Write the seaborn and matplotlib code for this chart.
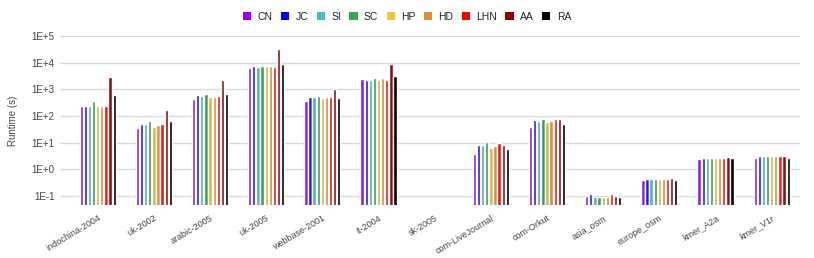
import matplotlib
matplotlib.use("Agg")
import matplotlib.pyplot as plt
from matplotlib.ticker import FixedLocator, FuncFormatter, NullLocator
from matplotlib.patches import Patch
import seaborn as sns
import pandas as pd
import numpy as np

graphs = ["indochina-2004", "uk-2002", "arabic-2005", "uk-2005", "webbase-2001", "it-2004",
          "sk-2005", "com-LiveJournal", "com-Orkut", "asia_osm", "europe_osm", "kmer_A2a", "kmer_V1r"]
methods = ["CN", "JC", "SI", "SC", "HP", "HD", "LHN", "AA", "RA"]
colors = ["#9900ff", "#0000ff", "#46bdc6", "#34a853", "#f1c232", "#e69138", "#ff0000", "#990000", "#000000"]

# runtime in seconds, one list per method (sk-2005 has no result)
nan = np.nan
CN = [234, 35, 425, 6600, 380, 2450, nan, 3.7, 37, 0.098, 0.40, 2.45, 2.75]
JC = [247, 48, 617, 7600, 537, 2340, nan, 8.1, 68, 0.115, 0.42, 2.75, 3.2]
SI = [247, 48, 565, 7200, 500, 2340, nan, 8.1, 63, 0.09, 0.42, 2.75, 3.05]
SC = [356, 66, 692, 7600, 565, 2750, nan, 10.5, 79, 0.09, 0.42, 2.6, 3.2]
HP = [229, 39, 501, 7600, 475, 2340, nan, 6.3, 59, 0.09, 0.42, 2.75, 3.05]
HD = [247, 45, 537, 7600, 500, 2630, nan, 7.2, 63, 0.09, 0.42, 2.6, 3.2]
LHN = [247, 48, 565, 7200, 500, 2340, nan, 9.5, 76, 0.115, 0.42, 2.75, 3.05]
AA = [3000, 162, 2240, 31600, 1020, 9300, nan, 8.5, 76, 0.10, 0.46, 3.0, 3.2]
RA = [630, 66, 692, 9300, 475, 3090, nan, 5.9, 49, 0.09, 0.40, 2.6, 2.75]

series = dict(zip(methods, [CN, JC, SI, SC, HP, HD, LHN, AA, RA]))
rows = []
for m, vals in series.items():
    for g, v in zip(graphs, vals):
        rows.append({"graph": g, "method": m, "runtime": v})
df = pd.DataFrame(rows)

sns.set_style("white")
plt.rcParams["font.family"] = ["Liberation Sans", "DejaVu Sans"]

fig = plt.figure(figsize=(8.14, 2.58), dpi=100)
ax = fig.add_axes([0.074, 0.205, 0.909, 0.655])

sns.barplot(data=df, x="graph", y="runtime", hue="method", order=graphs, hue_order=methods,
            palette=colors, width=0.66, gap=0.2, ax=ax, legend=False, zorder=3)

ax.set_yscale("log")
ax.set_ylim(0.045, 1e5)
ax.set_xlim(-0.667, len(graphs) - 0.493)
ax.yaxis.set_major_locator(FixedLocator([1e-1, 1, 1e1, 1e2, 1e3, 1e4, 1e5]))
ax.yaxis.set_minor_locator(NullLocator())
ax.yaxis.set_major_formatter(FuncFormatter(lambda v, p: "1E%+d" % round(np.log10(v))))
ax.grid(axis="y", color="#d9d9d9", linewidth=1, zorder=0)
for s in ax.spines.values():
    s.set_visible(False)
ax.tick_params(axis="both", length=0, labelcolor="#444444")
ax.tick_params(axis="y", pad=4, labelsize=7)
ax.tick_params(axis="x", pad=6, labelsize=6.5)
plt.setp(ax.get_xticklabels(), rotation=31, ha="right", rotation_mode="anchor")
ax.set_xlabel("")
ax.set_ylabel("Runtime (s)", fontsize=7, color="#444444", labelpad=10)

handles = [Patch(facecolor=c, edgecolor="none", label=m) for m, c in zip(methods, colors)]
fig.legend(handles=handles, loc="center", bbox_to_anchor=(0.5, 0.935), ncol=9, frameon=False,
           fontsize=7.5, handlelength=0.8, handleheight=0.8, handletextpad=0.6, columnspacing=0.8,
           labelcolor="#222222")

fig.savefig("out.png", dpi=100)
